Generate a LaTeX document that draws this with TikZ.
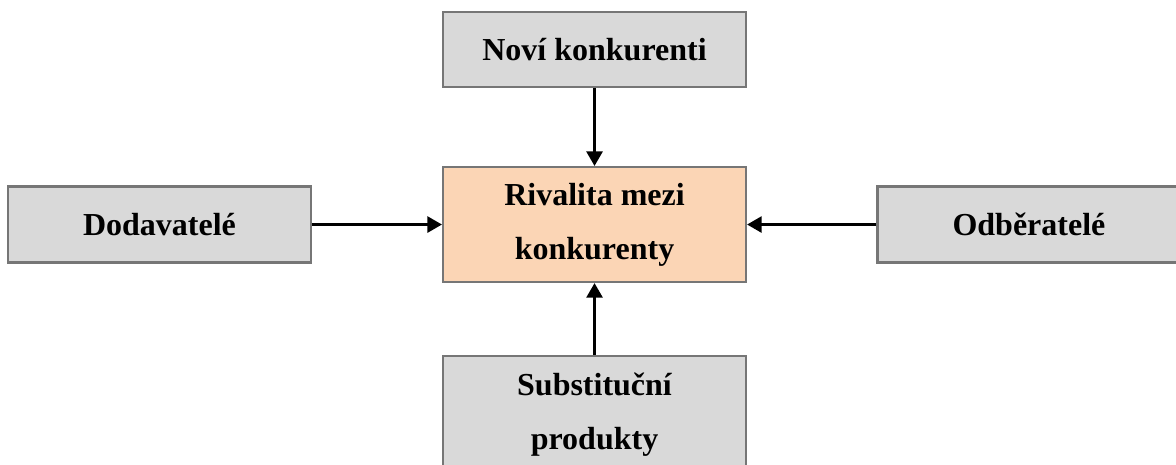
\documentclass[tikz,border=0pt]{standalone}
\usepackage{fontspec}
\setmainfont{Liberation Serif}
\usetikzlibrary{arrows.meta, positioning}

\definecolor{boxline}{RGB}{118,118,118}
\definecolor{forcegray}{RGB}{217,217,217}
\definecolor{rivalpeach}{RGB}{251,213,181}

\begin{document}
\begin{tikzpicture}[
        >={Triangle[length=11pt,width=12pt]},
        force/.style={rectangle, draw=boxline, line width=1.8pt, fill=forcegray, minimum width=227pt, minimum height=57pt, align=center, font=\bfseries\fontsize{24}{40.5}\selectfont},
        rivalry/.style={force, fill=rivalpeach, minimum height=86pt},
        arrow/.style={->, line width=2.2pt, draw=black}
    ]

    \useasboundingbox (-445.9pt,-179.6pt) rectangle (436.1pt,168.4pt);

    \node[rivalry] (rival) {Rivalita mezi\\konkurenty};
    \node[force, above=58.5pt of rival, minimum height=56pt] (newcomers) {Noví konkurenti};
    \node[force, left=97.5pt of rival] (suppliers) {Dodavatelé};
    \node[force, right=97pt of rival] (buyers) {Odběratelé};
    \node[force, below=54pt of rival, minimum height=88pt] (substitutes) {Substituční\\produkty};

    \draw[arrow] (newcomers) -- (rival);
    \draw[arrow] (suppliers) -- (rival);
    \draw[arrow] (buyers) -- (rival);
    \draw[arrow] (substitutes) -- (rival);

    \end{tikzpicture}
\end{document}
